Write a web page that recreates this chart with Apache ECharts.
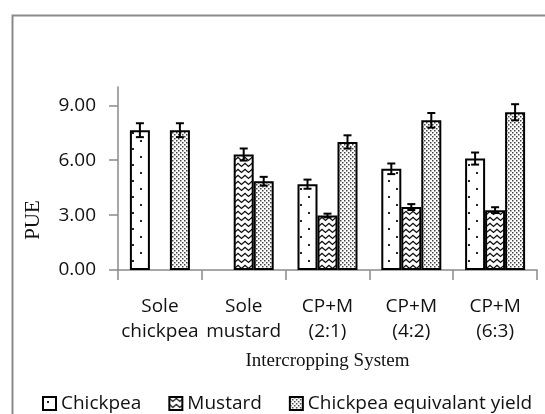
<!DOCTYPE html>
<html>
<head>
<meta charset="utf-8">
<script src="https://cdn.jsdelivr.net/npm/echarts@6/dist/echarts.min.js"></script>
<style>
html,body{margin:0;padding:0;background:#fff;}
#chart{width:545px;height:414px;}
</style>
</head>
<body>
<div id="chart"></div>
<script>
const categories = ['Sole\nchickpea', 'Sole\nmustard', 'CP+M\n(2:1)', 'CP+M\n(4:2)', 'CP+M\n(6:3)'];
const seriesNames = ['Chickpea', 'Mustard', 'Chickpea equivalant yield'];
const chickpea = [7.64, null, 4.69, 5.53, 6.09];
const mustard = [null, 6.31, 2.98, 3.44, 3.27];
const cey = [7.64, 4.85, 7.00, 8.18, 8.62];
const chickpeaErr = [0.38, null, 0.25, 0.29, 0.33];
const mustardErr = [null, 0.33, 0.10, 0.16, 0.16];
const ceyErr = [0.38, 0.24, 0.36, 0.40, 0.44];
const yTicks = [0, 3, 6, 9];

function makePattern(kind) {
  const c = document.createElement('canvas');
  const ctx = c.getContext('2d');
  if (kind === 'sparse') {
    c.width = 16; c.height = 16;
    ctx.fillStyle = '#fff'; ctx.fillRect(0, 0, 16, 16);
    ctx.fillStyle = '#222';
    ctx.fillRect(4, 4, 2, 2);
    ctx.fillRect(12, 12, 2, 2);
  } else if (kind === 'zigzag') {
    c.width = 7; c.height = 6;
    ctx.fillStyle = '#fff'; ctx.fillRect(0, 0, 7, 6);
    ctx.strokeStyle = '#111'; ctx.lineWidth = 1.3;
    ctx.beginPath();
    ctx.moveTo(-0.5, 1); ctx.lineTo(3.5, 4.5); ctx.lineTo(7.5, 1);
    ctx.stroke();
  } else {
    c.width = 4; c.height = 4;
    ctx.fillStyle = '#fff'; ctx.fillRect(0, 0, 4, 4);
    ctx.fillStyle = '#444';
    ctx.fillRect(0, 0, 1.5, 1.5);
    ctx.fillRect(2, 2, 1.5, 1.5);
  }
  return { image: c, repeat: 'repeat' };
}

const patterns = [makePattern('sparse'), makePattern('zigzag'), makePattern('dense')];
const values = [chickpea, mustard, cey];
const errs = [chickpeaErr, mustardErr, ceyErr];
const BAR_W = 20;

const chart = echarts.init(document.getElementById('chart'), null, { renderer: 'canvas' });

const series = [];
seriesNames.forEach((name, i) => {
  series.push({
    name: name,
    type: 'bar',
    data: values[i],
    barWidth: BAR_W,
    barGap: '0%',
    itemStyle: { color: patterns[i], borderColor: '#000', borderWidth: 2 },
    emphasis: { disabled: true },
    z: 2
  });
});
seriesNames.forEach((name, i) => {
  const data = values[i].map((v, k) => v == null ? null : [k, v, errs[i][k]]).filter(d => d);
  series.push({
    type: 'custom',
    name: name + ' err',
    data: data,
    z: 5,
    silent: true,
    renderItem: function (params, api) {
      const k = api.value(0), v = api.value(1), e = api.value(2);
      const top = api.coord([k, v + e]);
      const bot = api.coord([k, v - e]);
      const x = top[0] + (i - 1) * BAR_W;
      const cap = 4;
      const st = { stroke: '#000', lineWidth: 2 };
      return {
        type: 'group',
        children: [
          { type: 'line', shape: { x1: x, y1: top[1], x2: x, y2: bot[1] }, style: st },
          { type: 'line', shape: { x1: x - cap, y1: top[1], x2: x + cap, y2: top[1] }, style: st },
          { type: 'line', shape: { x1: x - cap, y1: bot[1], x2: x + cap, y2: bot[1] }, style: st }
        ]
      };
    }
  });
});

chart.setOption({
  animation: false,
  backgroundColor: '#fff',
  graphic: [{
    type: 'rect', left: 10, top: 13,
    shape: { x: 0, y: 0, width: 600, height: 500 },
    style: { fill: 'none', stroke: '#8a8a8a', lineWidth: 2 },
    silent: true
  }, {
    type: 'text',
    x: 33, y: 220,
    rotation: Math.PI / 2,
    style: {
      text: 'PUE', fontFamily: 'Liberation Serif', fontSize: 21, fill: '#111',
      align: 'center', verticalAlign: 'middle'
    },
    silent: true
  }],
  grid: { left: 118, right: 8, top: 87, bottom: 144 },
  legend: {
    data: seriesNames,
    left: 37,
    top: 389,
    itemWidth: 13,
    itemHeight: 13,
    itemGap: 27,
    icon: 'rect',
    textStyle: { fontFamily: 'Open Sans', fontSize: 19, color: '#111' }
  },
  xAxis: {
    type: 'category',
    data: categories,
    name: 'Intercropping System',
    nameLocation: 'middle',
    nameGap: 82,
    nameTextStyle: { fontFamily: 'Liberation Serif', fontSize: 19, color: '#111' },
    axisLine: { lineStyle: { color: '#8a8a8a', width: 1.5 } },
    axisTick: { show: true, length: 10, lineStyle: { color: '#8a8a8a', width: 1.5 } },
    axisLabel: { fontFamily: 'Open Sans', fontSize: 19, color: '#111', lineHeight: 25, margin: 24, interval: 0 }
  },
  yAxis: {
    type: 'value',
    min: 0, max: 10, interval: 3,
    axisLine: { show: true, lineStyle: { color: '#8a8a8a', width: 1.5 } },
    axisTick: { show: true, length: 9, lineStyle: { color: '#8a8a8a', width: 1.5 } },
    splitLine: { show: false },
    axisLabel: {
      fontFamily: 'Open Sans', fontSize: 19, color: '#111', margin: 22,
      showMaxLabel: false,
      formatter: function (v) { return yTicks.indexOf(v) >= 0 ? v.toFixed(2) : ''; }
    }
  },
  series: series
});
</script>
</body>
</html>
